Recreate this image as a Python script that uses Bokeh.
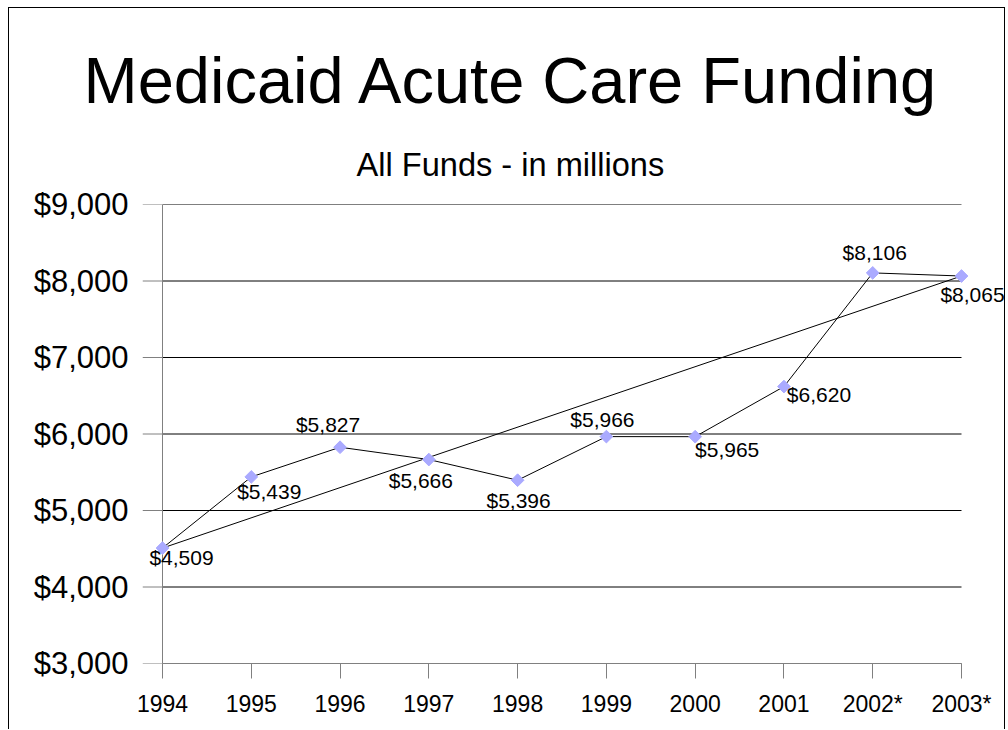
import math
from bokeh.plotting import figure
from bokeh.models import (Range1d, FixedTicker, Label, Title, NumeralTickFormatter)
from bokeh.embed import file_html
from bokeh.resources import INLINE

# ---- data ----
years = ["1994", "1995", "1996", "1997", "1998", "1999", "2000", "2001", "2002*", "2003*"]
funding = [4509, 5439, 5827, 5666, 5396, 5966, 5965, 6620, 8106, 8065]
y_ticks = [3000, 4000, 5000, 6000, 7000, 8000, 9000]
# straight line joining the first and last year
trend_years = [years[0], years[-1]]
trend_values = [funding[0], funding[-1]]

# ---- label placement (style, pixels; dy positive = downwards) ----
label_dx = [19, 18, -12, -8, 1, -4, 32, 35, 2, 11]
label_dy = [9, 15, -23, 21, 20, -17, 13, 8, -20, 18]

FONT = "Liberation Sans"

xs = list(range(len(years)))
trend_x = [years.index(t) for t in trend_years]
n = len(years) - 1

# frame spans a little beyond the first/last category so edge labels are not clipped
PX_PER_CAT = 799 / n          # plot width between first and last category
PAD_L, PAD_R = 20, 45         # pixels of frame beyond first / last category
x_left = -PAD_L / PX_PER_CAT

p = figure(width=997, height=722, output_backend="svg", toolbar_location=None,
           x_range=Range1d(x_left, n + PAD_R / PX_PER_CAT),
           y_range=Range1d(3000, 9000),
           min_border_left=133, min_border_right=0, min_border_top=196,
           min_border_bottom=67)
p.styles = {"margin-left": "8px", "margin-top": "7px",
            "border-left": "1px solid black", "border-top": "1px solid black",
            "border-right": "1px solid black"}
p.outline_line_color = None
p.background_fill_color = "white"
p.border_fill_color = "white"

# titles
sub = Title(text="All Funds - in millions", text_font=FONT, text_font_size="32.6px",
            text_font_style="normal", text_color="black", align="left", offset=214,
            standoff=44)
p.add_layout(sub, "above")
main = Title(text="Medicaid Acute Care Funding", text_font=FONT, text_font_size="65px",
             text_font_style="normal", text_color="black", align="left", offset=-59,
             standoff=10)
p.add_layout(main, "above")

# x axis
p.xaxis.ticker = FixedTicker(ticks=xs)
p.xaxis.bounds = (0, n)
p.xaxis.major_label_overrides = {i: y for i, y in enumerate(years)}
p.xaxis.major_label_text_font = FONT
p.xaxis.major_label_text_font_size = "23px"
p.xaxis.major_label_text_color = "black"
p.xaxis.major_tick_out = 15
p.xaxis.major_tick_in = 0
p.xaxis.minor_tick_line_color = None
p.xaxis.major_label_standoff = 12
p.xaxis.axis_line_color = "#808080"
p.xaxis.major_tick_line_color = "#808080"

# y axis (labels only; its line and ticks are drawn below at the first category)
p.yaxis.ticker = FixedTicker(ticks=y_ticks)
p.yaxis.formatter = NumeralTickFormatter(format="$0,0")
p.yaxis.major_label_text_font = FONT
p.yaxis.major_label_text_font_size = "31px"
p.yaxis.major_label_text_color = "black"
p.yaxis.major_tick_line_color = None
p.yaxis.minor_tick_line_color = None
p.yaxis.axis_line_color = None
p.yaxis.major_tick_out = 0
p.yaxis.major_tick_in = 0
p.yaxis.major_label_standoff = 14

p.xgrid.grid_line_color = None
p.ygrid.grid_line_color = None
k = len(y_ticks)
# horizontal gridlines spanning first to last category
p.segment(x0=[0] * k, x1=[n] * k, y0=y_ticks, y1=y_ticks,
          line_color="black", line_width=1)
# y-axis tick marks (outside) and axis line at the first category
p.segment(x0=[x_left] * k, x1=[0] * k, y0=y_ticks, y1=y_ticks,
          line_color="#808080", line_width=1)
p.segment(x0=[0], x1=[0], y0=[y_ticks[0]], y1=[y_ticks[-1]],
          line_color="#808080", line_width=1)

# lines
p.line(trend_x, trend_values, line_color="black", line_width=1)
p.line(xs, funding, line_color="black", line_width=1)
p.scatter(xs, funding, marker="square", angle=math.pi / 4, size=9,
          fill_color="#aaaaff", line_color="#aaaaff")

# value labels
for x, v, dx, dy in zip(xs, funding, label_dx, label_dy):
    p.add_layout(Label(x=x, y=v, text="${:,}".format(v), x_offset=dx, y_offset=-dy,
                       text_font=FONT, text_font_size="21px", text_color="black",
                       text_align="center", text_baseline="alphabetic"))

open("out.html", "w").write(file_html(p, INLINE))
